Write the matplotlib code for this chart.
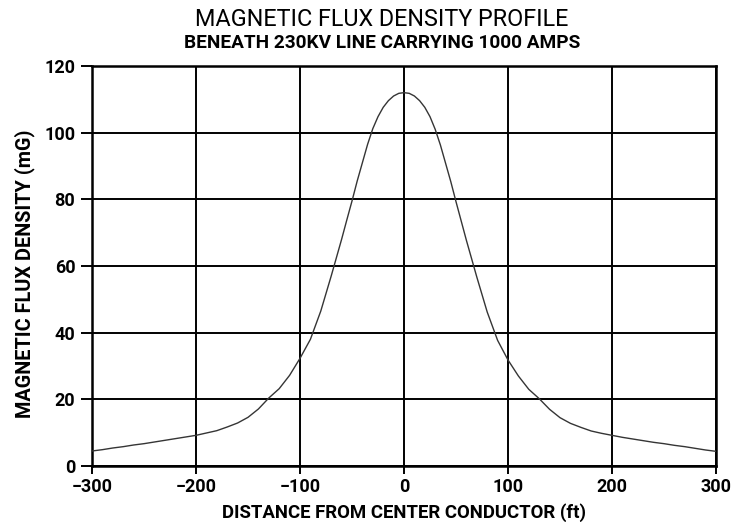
import matplotlib
matplotlib.use("Agg")
import matplotlib.pyplot as plt

# distance from center conductor (ft) and magnetic flux density (mG)
distance = [-300, -290, -280, -270, -260, -250, -240, -230, -220, -210,
            -200, -190, -180, -170, -160, -150, -140, -130, -120, -110,
            -100, -90, -80, -70, -60, -55, -50, -45, -40, -35, -30, -25,
            -20, -15, -10, -5,
            0, 5, 10, 15, 20, 25, 30, 35, 40, 45, 50, 55, 60, 70, 80, 90,
            100, 110, 120, 130, 140, 150, 160, 170, 180, 190,
            200, 210, 220, 230, 240, 250, 260, 270, 280, 290, 300]
flux = [4.5, 4.9, 5.4, 5.8, 6.3, 6.7, 7.2, 7.7, 8.2, 8.7,
        9.2, 9.9, 10.6, 11.7, 12.9, 14.6, 17.1, 20.4, 23.2, 27.2,
        32.3, 38.0, 46.5, 57.0, 68.0, 73.8, 79.5, 85.5, 91.0, 96.5, 101.2, 104.8,
        107.6, 109.6, 111.0, 111.8,
        112.0, 111.8, 111.0, 109.6, 107.6, 104.8, 101.0, 96.3, 90.8, 85.3, 79.3,
        73.5, 67.7, 56.7, 46.2, 37.7,
        31.8, 27.0, 23.0, 20.2, 17.0, 14.5, 12.8, 11.6, 10.5, 9.8,
        9.2, 8.6, 8.1, 7.6, 7.1, 6.7, 6.2, 5.8, 5.3, 4.8, 4.4]

xticks = [-300, -200, -100, 0, 100, 200, 300]
yticks = [0, 20, 40, 60, 80, 100, 120]

FONT = ["Roboto", "DejaVu Sans"]

fig = plt.figure(figsize=(7.37, 5.22), dpi=100)
ax = fig.add_axes([92/737, 1 - 466/522, (716 - 92)/737, (466 - 66)/522])

ax.plot(distance, flux, color="#353535", lw=1.0, zorder=3)

ax.set_xlim(-300, 300)
ax.set_ylim(0, 120)
ax.set_xticks(xticks)
ax.set_yticks(yticks)
ax.set_xticklabels([str(v).replace("-", "\u2212") for v in xticks])
ax.grid(True, color="black", lw=1.4, zorder=1)
for s in ax.spines.values():
    s.set_linewidth(1.8)
    s.set_color("black")
ax.tick_params(axis="y", direction="out", length=8, width=1.4, colors="black", pad=4)
ax.tick_params(axis="x", direction="out", length=6, width=1.4, colors="black", pad=3)
for lab in ax.get_xticklabels() + ax.get_yticklabels():
    lab.set_fontfamily(FONT)
    lab.set_fontweight("bold")
    lab.set_fontsize(13)

ax.set_xlabel("DISTANCE FROM CENTER CONDUCTOR (ft)", family=FONT,
              fontweight="bold", fontsize=13.4, labelpad=5)

fig.text(25/737, 1 - 274/522, "MAGNETIC FLUX DENSITY (mG)", family=FONT,
         fontweight="bold", fontsize=14.3, rotation=90, ha="center", va="center")

fig.text(382/737, 1 - 20/522, "MAGNETIC FLUX DENSITY PROFILE", family=FONT,
         fontsize=16.8, ha="center", va="center")
fig.text(382/737, 1 - 42.5/522, "BENEATH 230KV LINE CARRYING 1000 AMPS", family=FONT,
         fontweight="bold", fontsize=13.7, ha="center", va="center")

fig.savefig("out.png", dpi=100)
